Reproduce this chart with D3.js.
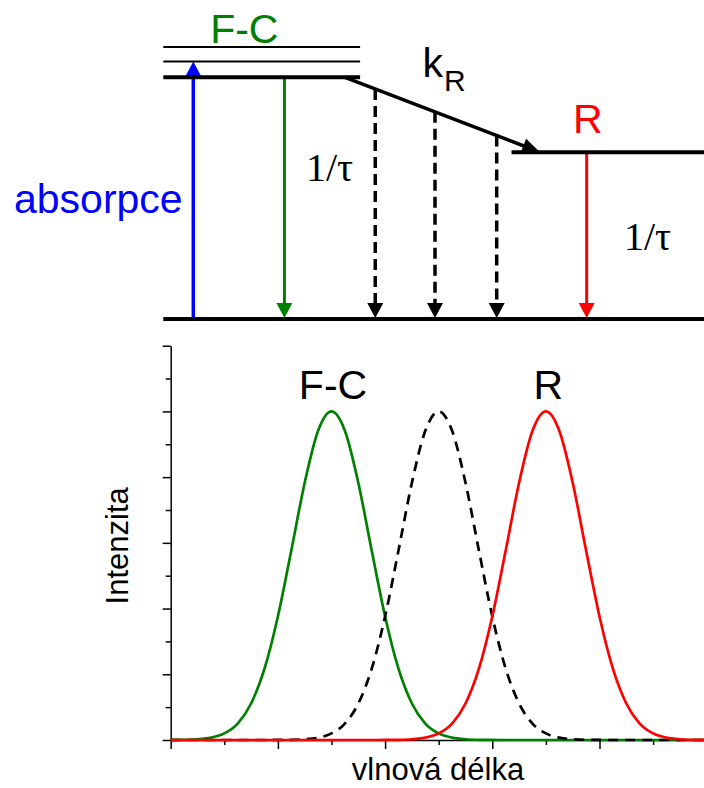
<!DOCTYPE html>
<html>
<head>
<meta charset="utf-8">
<script src="https://cdn.jsdelivr.net/npm/d3@7"></script>
<style>
  html, body { margin: 0; padding: 0; background: #fff; }
  svg { display: block; }
</style>
</head>
<body>
<svg id="chart" width="704" height="788"></svg>
<script>
// ---------- spectra (relative wavelength units, normalised intensity) ----------
const wavelength = [0, 0.25, 0.5, 0.75, 1, 1.25, 1.5, 1.75, 2, 2.25, 2.5, 2.75, 3, 3.25, 3.5, 3.75,
  4, 4.25, 4.5, 4.75, 5, 5.25, 5.5, 5.75, 6, 6.25, 6.5, 6.75, 7, 7.25, 7.5, 7.75,
  8, 8.25, 8.5, 8.75, 9, 9.25, 9.5, 9.75, 10];

// Franck-Condon (unrelaxed) emission band
const fcIntensity = [0.0002, 0.0006, 0.0022, 0.0071, 0.020, 0.050, 0.111, 0.217, 0.376, 0.577, 0.783, 0.941, 1,
  0.941, 0.783, 0.577, 0.376, 0.217, 0.111, 0.050, 0.020, 0.0071, 0.0022, 0.0006, 0.0002,
  0, 0, 0, 0, 0, 0, 0, 0, 0, 0, 0, 0, 0, 0, 0, 0];

// emission during solvent relaxation
const relaxIntensity = [0, 0, 0, 0, 0, 0, 0, 0,
  0.0002, 0.0006, 0.0022, 0.0071, 0.020, 0.050, 0.111, 0.217, 0.376, 0.577, 0.783, 0.941, 1,
  0.941, 0.783, 0.577, 0.376, 0.217, 0.111, 0.050, 0.020, 0.0071, 0.0022, 0.0006, 0.0002,
  0, 0, 0, 0, 0, 0, 0, 0];

// fully relaxed (R) emission band
const rIntensity = [0, 0, 0, 0, 0, 0, 0, 0, 0, 0, 0, 0, 0, 0, 0, 0,
  0.0002, 0.0006, 0.0022, 0.0071, 0.020, 0.050, 0.111, 0.217, 0.376, 0.577, 0.783, 0.941, 1,
  0.941, 0.783, 0.577, 0.376, 0.217, 0.111, 0.050, 0.020, 0.0071, 0.0022, 0.0006, 0.0002];

const xMajorTicks = [0, 2, 4, 6, 8, 10];
const xMinorTicks = [1, 3, 5, 7, 9];
const yMajorTicks = [0, 0.2, 0.4, 0.6, 0.8, 1.0, 1.2];
const yMinorTicks = [0.1, 0.3, 0.5, 0.7, 0.9, 1.1];

const peakLabels = ["F-C", "R"];
const peakLabelPos = [3, 7];

// ---------- energy scheme ----------
const levelEnergy = [0, 1, 1.065, 1.125, 0.69];      // ground, F-C, two vibrational, relaxed R
const levelFrom   = [0, 0, 0, 0, 6.44];
const levelTo     = [10.2, 3.64, 3.64, 3.64, 10.2];
const levelWidth  = [4, 4, 2, 2, 4];

const relaxStart = [3.36, 1];      // k_R path start (position, energy)
const relaxEnd   = [6.97, 0.69];   // k_R path end
const relaxEmissionPos = [3.92, 5.025, 6.166];

const absorptionPos = 0.555;
const fcEmissionPos = 2.24;
const rEmissionPos  = 7.83;

const GREEN = "#008000", RED = "#ff0000", BLUE = "#0000ff";
const SANS = "'Liberation Sans', Arial, sans-serif";
const SERIF = "'Liberation Serif', 'Times New Roman', serif";

const svg = d3.select("#chart");
svg.append("rect").attr("width", 704).attr("height", 788).attr("fill", "#fff");

// ===== scheme =====
const sx = d3.scaleLinear().domain([0, 10]).range([163.3, 704]);
const sy = d3.scaleLinear().domain([0, 1]).range([319, 77.3]);
const scheme = svg.append("g");

const HEAD_L = 15, HEAD_W = 8;
function downArrow(g, x, y0, y1, color, dashed) {
  const tip = y1 - 1;
  const line = g.append("line")
    .attr("x1", x).attr("x2", x)
    .attr("y1", y0).attr("y2", tip - HEAD_L + 1)
    .attr("stroke", color).attr("stroke-width", dashed ? 3.5 : 3);
  if (dashed) line.attr("stroke-dasharray", "11,6");
  g.append("path")
    .attr("d", `M${x - HEAD_W},${tip - HEAD_L} L${x + HEAD_W},${tip - HEAD_L} L${x},${tip} Z`)
    .attr("fill", color);
}

// absorption (upward)
{
  const x = sx(absorptionPos), tip = sy(1.065), base = sy(0);
  scheme.append("line").attr("x1", x).attr("x2", x)
    .attr("y1", base).attr("y2", tip + HEAD_L - 1)
    .attr("stroke", BLUE).attr("stroke-width", 3.5);
  scheme.append("path")
    .attr("d", `M${x - HEAD_W},${tip + HEAD_L} L${x + HEAD_W},${tip + HEAD_L} L${x},${tip} Z`)
    .attr("fill", BLUE);
}

// F-C emission
downArrow(scheme, sx(fcEmissionPos), sy(1), sy(0), GREEN, false);
// emission during relaxation
const kx = d3.scaleLinear().domain([relaxStart[0], relaxEnd[0]]).range([relaxStart[1], relaxEnd[1]]);
relaxEmissionPos.forEach(p => downArrow(scheme, sx(p), sy(kx(p)), sy(0), "#000", true));
// R emission
downArrow(scheme, sx(rEmissionPos), sy(relaxEnd[1]), sy(0), RED, false);

// energy levels
levelEnergy.forEach((e, i) => {
  scheme.append("line")
    .attr("x1", sx(levelFrom[i])).attr("x2", sx(levelTo[i]))
    .attr("y1", sy(e)).attr("y2", sy(e))
    .attr("stroke", "#000").attr("stroke-width", levelWidth[i]);
});

// k_R relaxation arrow
{
  const x0 = sx(relaxStart[0]), y0 = sy(relaxStart[1]);
  const x1 = sx(relaxEnd[0]), y1 = sy(relaxEnd[1]);
  const len = Math.hypot(x1 - x0, y1 - y0);
  const ux = (x1 - x0) / len, uy = (y1 - y0) / len;
  const hl = 18, hw = 7.5;
  scheme.append("line").attr("x1", x0).attr("y1", y0)
    .attr("x2", x1 - ux * (hl - 2)).attr("y2", y1 - uy * (hl - 2))
    .attr("stroke", "#000").attr("stroke-width", 3.5);
  const bx = x1 - ux * hl, by = y1 - uy * hl;
  scheme.append("path")
    .attr("d", `M${x1},${y1} L${bx - uy * hw},${by + ux * hw} L${bx + uy * hw},${by - ux * hw} Z`)
    .attr("fill", "#000");
}

// scheme labels
scheme.append("text").attr("x", 244.3).attr("y", 43.3).attr("text-anchor", "middle")
  .attr("font-family", SANS).attr("font-size", 41).attr("fill", GREEN).text("F-C");
const kt = scheme.append("text").attr("x", 422.5).attr("y", 77.3)
  .attr("font-family", SANS).attr("font-size", 41).attr("fill", "#000");
kt.append("tspan").text("k");
kt.append("tspan").attr("x", 444).attr("y", 90.7).attr("font-size", 30).text("R");
scheme.append("text").attr("x", 587.7).attr("y", 132.7).attr("text-anchor", "middle")
  .attr("font-family", SANS).attr("font-size", 41).attr("fill", RED).text("R");
scheme.append("text").attr("x", 14).attr("y", 212.7)
  .attr("font-family", SANS).attr("font-size", 41).attr("fill", BLUE).text("absorpce");
scheme.append("text").attr("x", 306).attr("y", 181)
  .attr("font-family", SERIF).attr("font-size", 40).attr("fill", "#000").text("1/τ");
scheme.append("text").attr("x", 624).attr("y", 250)
  .attr("font-family", SERIF).attr("font-size", 40).attr("fill", "#000").text("1/τ");

// ===== spectrum =====
const x = d3.scaleLinear().domain([0, 10]).range([170.7, 706.7]);
const y = d3.scaleLinear().domain([0, 1.2]).range([740, 345.7]);
const plot = svg.append("g");

function styleAxis(g) {
  g.selectAll("path, line").attr("stroke", "#000").attr("stroke-width", 1.5);
  g.selectAll("text").remove();
}
plot.append("g").attr("transform", "translate(0,740)")
  .call(d3.axisBottom(x).tickValues(xMajorTicks).tickSize(9).tickSizeOuter(0).tickFormat(""))
  .call(styleAxis);
plot.append("g").attr("transform", "translate(0,740)")
  .call(d3.axisBottom(x).tickValues(xMinorTicks).tickSize(5).tickSizeOuter(0).tickFormat(""))
  .call(styleAxis).select(".domain").remove();
plot.append("g").attr("transform", "translate(170.7,0)")
  .call(d3.axisLeft(y).tickValues(yMajorTicks).tickSize(8).tickSizeOuter(0).tickFormat(""))
  .call(styleAxis);
plot.append("g").attr("transform", "translate(170.7,0)")
  .call(d3.axisLeft(y).tickValues(yMinorTicks).tickSize(5).tickSizeOuter(0).tickFormat(""))
  .call(styleAxis).select(".domain").remove();

const line = d3.line().x(d => x(d[0])).y(d => y(d[1])).curve(d3.curveMonotoneX);
const series = [
  { values: fcIntensity, color: GREEN, dash: null },
  { values: relaxIntensity, color: "#000", dash: "10,7" },
  { values: rIntensity, color: RED, dash: null }
];
series.forEach(s => {
  plot.append("path")
    .datum(wavelength.map((w, i) => [w, s.values[i]]))
    .attr("d", line)
    .attr("fill", "none")
    .attr("stroke", s.color)
    .attr("stroke-width", 2.7)
    .attr("stroke-dasharray", s.dash);
});

peakLabels.forEach((t, i) => {
  plot.append("text").attr("x", x(peakLabelPos[i]) + (i === 1 ? 2.5 : 1.5)).attr("y", 399)
    .attr("text-anchor", "middle").attr("font-family", SANS).attr("font-size", 41)
    .attr("fill", "#000").text(t);
});

plot.append("text").attr("transform", "translate(128.3,545.8) rotate(-90)")
  .attr("text-anchor", "middle").attr("font-family", SANS).attr("font-size", 31)
  .attr("fill", "#000").text("Intenzita");
plot.append("text").attr("x", 438).attr("y", 780)
  .attr("text-anchor", "middle").attr("font-family", SANS).attr("font-size", 31)
  .attr("fill", "#000").text("vlnová délka");
</script>
</body>
</html>
